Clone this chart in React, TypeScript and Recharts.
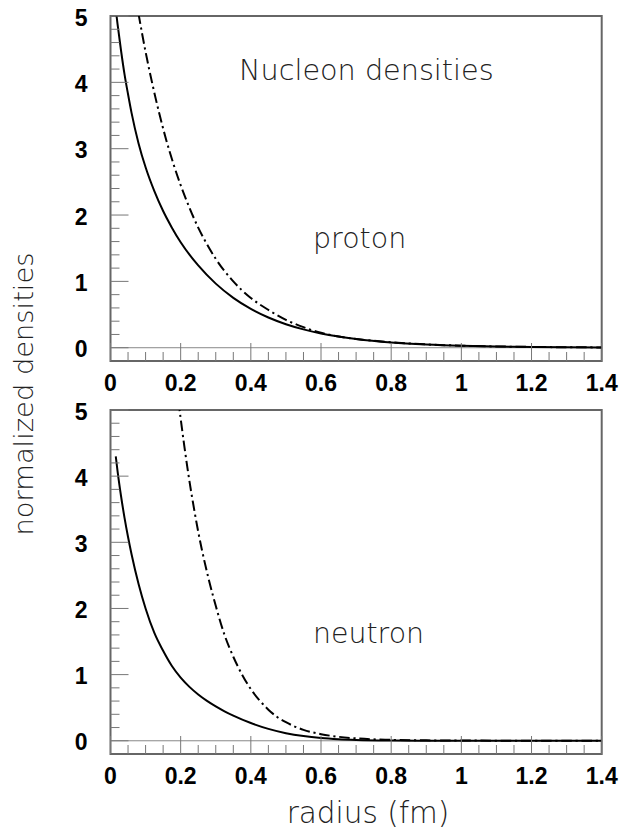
import React from "react";
import { Line, LineChart, ReferenceArea, ReferenceLine, XAxis, YAxis } from "recharts";

// Nucleon densities, proton (top) and neutron (bottom) panels.

const protonSolidX = [0.015, 0.02, 0.03, 0.04, 0.05, 0.06, 0.08, 0.1, 0.125, 0.15, 0.175, 0.2, 0.25, 0.3, 0.35, 0.4, 0.45, 0.5, 0.55, 0.6, 0.65, 0.7, 0.8, 0.9, 1.0, 1.1, 1.2, 1.3, 1.4];
const protonSolidY = [5.1, 4.88, 4.48, 4.12, 3.82, 3.54, 3.08, 2.72, 2.36, 2.06, 1.81, 1.59, 1.24, 0.966, 0.752, 0.586, 0.456, 0.355, 0.277, 0.215, 0.168, 0.131, 0.079, 0.048, 0.029, 0.018, 0.011, 0.0066, 0.004];

const protonDashX = [0.07, 0.08, 0.1, 0.12, 0.14, 0.16, 0.18, 0.2, 0.225, 0.25, 0.275, 0.3, 0.35, 0.4, 0.45, 0.5, 0.55, 0.6, 0.65, 0.7, 0.8, 0.9, 1.0, 1.1, 1.2, 1.3, 1.4];
const protonDashY = [5.34, 5.03, 4.46, 3.96, 3.51, 3.11, 2.76, 2.45, 2.11, 1.81, 1.56, 1.34, 1.0, 0.75, 0.57, 0.42, 0.31, 0.225, 0.17, 0.133, 0.082, 0.05, 0.031, 0.019, 0.012, 0.0075, 0.0046];

const neutronSolidX = [0.015, 0.02, 0.03, 0.04, 0.05, 0.06, 0.08, 0.1, 0.125, 0.15, 0.175, 0.2, 0.225, 0.25, 0.275, 0.3, 0.325, 0.35, 0.4, 0.45, 0.5, 0.55, 0.6, 0.65, 0.7, 0.8, 0.9, 1.0, 1.1, 1.2, 1.3, 1.4];
const neutronSolidY = [4.3, 4.08, 3.7, 3.37, 3.08, 2.82, 2.37, 2.0, 1.63, 1.36, 1.13, 0.955, 0.815, 0.7, 0.603, 0.52, 0.446, 0.38, 0.268, 0.18, 0.115, 0.071, 0.042, 0.024, 0.013, 0.004, 0.0015, 0.0006, 0.0003, 0.0002, 0.0001, 0.0001];

const neutronDashX = [0.18, 0.19, 0.2, 0.21, 0.22, 0.23, 0.24, 0.25, 0.26, 0.28, 0.3, 0.325, 0.35, 0.375, 0.4, 0.425, 0.45, 0.475, 0.5, 0.55, 0.6, 0.65, 0.7, 0.8, 0.9, 1.0, 1.1, 1.2, 1.3, 1.4];
const neutronDashY = [5.75, 5.3, 4.87, 4.47, 4.1, 3.76, 3.45, 3.16, 2.9, 2.44, 2.04, 1.6, 1.27, 1.0, 0.78, 0.61, 0.47, 0.36, 0.28, 0.165, 0.1, 0.06, 0.036, 0.014, 0.006, 0.003, 0.002, 0.001, 0.001, 0.001];

const xTicks = [0, 0.05, 0.1, 0.15, 0.2, 0.25, 0.3, 0.35, 0.4, 0.45, 0.5, 0.55, 0.6, 0.65, 0.7, 0.75, 0.8, 0.85, 0.9, 0.95, 1.0, 1.05, 1.1, 1.15, 1.2, 1.25, 1.3, 1.35, 1.4];
const yTicks = [0, 0.2, 0.4, 0.6, 0.8, 1, 1.2, 1.4, 1.6, 1.8, 2, 2.2, 2.4, 2.6, 2.8, 3, 3.2, 3.4, 3.6, 3.8, 4, 4.2, 4.4, 4.6, 4.8, 5];

const pts = (xs: number[], ys: number[]) => xs.map((x, i) => ({ x, y: ys[i] }));

const TICK_FONT = { fontFamily: "'Liberation Sans', Arial, sans-serif", fontWeight: 700, fontSize: 23, fill: "#000" };
const AXIS_GRAY = "#777";

function XTick(props: any) {
  const { x, y, payload } = props;
  const v = payload.value as number;
  const major = Math.abs(v * 5 - Math.round(v * 5)) < 1e-6;
  return (
    <g>
      <line x1={x} x2={x} y1={y} y2={y - (major ? 18 : 9)} stroke={AXIS_GRAY} strokeWidth={1} />
      {major && (
        <text x={x} y={y + 30} textAnchor="middle" {...TICK_FONT}>
          {String(Math.round(v * 10) / 10)}
        </text>
      )}
    </g>
  );
}

function YTick(props: any) {
  const { x, y, payload } = props;
  const v = payload.value as number;
  const major = Math.abs(v - Math.round(v)) < 1e-6;
  return (
    <g>
      <line x1={x} x2={x + (major ? 18 : 9)} y1={y} y2={y} stroke={AXIS_GRAY} strokeWidth={1} />
      {major && (
        <text x={x - 23} y={y + 9.5} textAnchor="end" {...TICK_FONT}>
          {String(Math.round(v))}
        </text>
      )}
    </g>
  );
}

function Panel({ solid, dash, marginTop, marginBottom }: { solid: { x: number; y: number }[]; dash: { x: number; y: number }[]; marginTop: number; marginBottom: number }) {
  return (
    <LineChart width={622} height={400} margin={{ top: marginTop, right: 20.3, bottom: marginBottom, left: 70.5 }}>
      <XAxis
        dataKey="x"
        type="number"
        domain={[0, 1.4]}
        ticks={xTicks}
        interval={0}
        tickSize={0}
        tickMargin={0}
        tickLine={false}
        axisLine={false}
        height={30}
        tick={<XTick />}
      />
      <YAxis
        type="number"
        domain={[-0.2, 5]}
        allowDataOverflow
        ticks={yTicks}
        interval={0}
        tickSize={0}
        tickMargin={0}
        tickLine={false}
        axisLine={false}
        width={40}
        tick={<YTick />}
      />
      <ReferenceLine y={0} stroke="#888" strokeWidth={1} />
      <ReferenceArea x1={0} x2={1.4} y1={-0.2} y2={5} fill="none" stroke="#666" strokeWidth={2} />
      <Line data={solid} dataKey="y" type="monotone" stroke="#000" strokeWidth={2} dot={false} isAnimationActive={false} />
      <Line data={dash} dataKey="y" type="monotone" stroke="#000" strokeWidth={2} strokeDasharray="10.5 3.75 2.2 3.75" dot={false} isAnimationActive={false} />
    </LineChart>
  );
}

const LABEL_FONT = { fontFamily: "'DejaVu Sans', sans-serif", fontWeight: 200, fill: "#222" };

export default function App() {
  return (
    <div style={{ position: "absolute", left: 0, top: 0, width: 622, height: 833, background: "#fff" }}>
      <div style={{ position: "absolute", left: 0, top: 0 }}>
        <Panel solid={pts(protonSolidX, protonSolidY)} dash={pts(protonDashX, protonDashY)} marginTop={16} marginBottom={9} />
      </div>
      <div style={{ position: "absolute", left: 0, top: 400 }}>
        <Panel solid={pts(neutronSolidX, neutronSolidY)} dash={pts(neutronDashX, neutronDashY)} marginTop={10} marginBottom={16} />
      </div>
      <svg width={622} height={833} style={{ position: "absolute", left: 0, top: 0, pointerEvents: "none" }}>
        <text x={239} y={80} fontSize={28.7} {...LABEL_FONT}>Nucleon densities</text>
        <text x={313} y={248} fontSize={28.5} {...LABEL_FONT}>proton</text>
        <text x={313} y={643} fontSize={28.4} {...LABEL_FONT}>neutron</text>
        <text x={368} y={823} fontSize={29.5} textAnchor="middle" {...LABEL_FONT}>radius (fm)</text>
        <text x={33} y={394} fontSize={27.3} textAnchor="middle" transform="rotate(-90 33 394)" {...LABEL_FONT}>normalized densities</text>
      </svg>
    </div>
  );
}
